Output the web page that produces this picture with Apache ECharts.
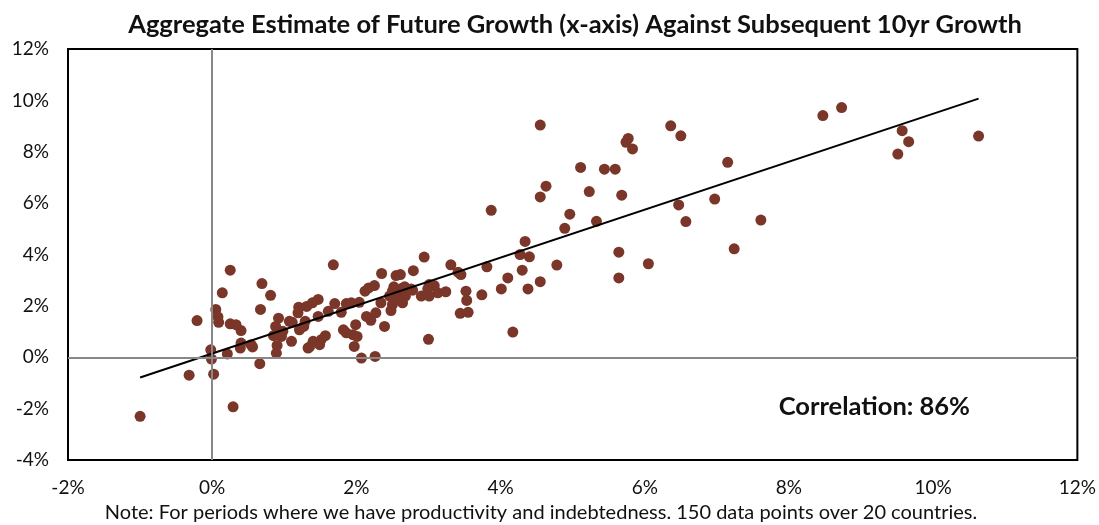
<!DOCTYPE html>
<html>
<head>
<meta charset="utf-8">
<script src="https://cdn.jsdelivr.net/npm/echarts@6/dist/echarts.min.js"></script>
<style>
  html, body { margin: 0; padding: 0; background: #fff; }
  #myChart { width: 1099px; height: 525px; }
</style>
</head>
<body>
<div id="myChart"></div>
<script>
// 数据（%）
var estGrowth = [
  -1.00, -0.32, -0.21, -0.02, -0.01, 0.02, 0.05, 0.08, 0.09, 0.14,
  0.25, 0.21, 0.29, 0.25, 0.33, 0.40, 0.40, 0.39, 0.54, 0.56,
  0.66, 0.69, 0.67, 0.81, 0.92, 0.88, 0.85, 0.90, 0.89, 0.98,
  0.96, 1.07, 1.11, 1.10, 1.20, 1.19, 1.21, 1.31, 1.33, 1.68,
  2.35, 2.55, 2.61, 2.25, 2.17, 2.12, 2.52, 2.50, 2.64, 1.47,
  1.39, 1.70, 1.86, 1.93, 2.04, 2.34, 2.57, 2.62, 2.48, 1.61,
  1.79, 1.47, 2.14, 2.20, 2.27, 1.29, 1.27, 2.39, 1.99, 1.82,
  1.86, 1.95, 2.01, 1.57, 1.51, 1.40, 1.35, 1.49, 1.97, 2.07,
  2.26, 2.94, 3.31, 2.79, 3.81, 3.41, 3.45, 2.67, 2.76, 2.62,
  2.68, 2.46, 2.64, 2.50, 2.78, 2.90, 3.01, 3.13, 3.24, 3.01,
  3.08, 2.99, 3.52, 3.53, 3.74, 4.01, 3.44, 3.55, 3.00, 4.10,
  4.17, 4.55, 6.36, 6.50, 5.77, 5.74, 5.83, 5.11, 5.44, 5.59,
  4.63, 4.55, 5.23, 5.68, 4.96, 6.47, 6.57, 4.89, 5.33, 4.34,
  4.27, 4.40, 5.64, 6.05, 4.78, 4.30, 5.64, 4.55, 4.38, 3.87,
  8.47, 8.73, 9.57, 9.66, 9.51, 10.63, 7.15, 6.97, 7.61, 7.24
];
var nextGrowth = [
  -2.30, -0.70, 1.43, 0.29, -0.07, -0.66, 1.86, 1.57, 1.36, 2.51,
  3.39, 0.13, -1.93, 1.30, 1.27, 1.04, 0.55, 0.36, 0.49, 0.40,
  -0.25, 2.87, 1.86, 2.41, 1.52, 1.20, 0.84, 0.46, 0.16, 1.01,
  0.81, 1.40, 1.36, 0.62, 1.95, 1.73, 1.07, 1.98, 0.36, 3.60,
  3.26, 3.18, 3.22, 2.79, 2.70, 2.57, 2.74, 2.57, 2.70, 2.25,
  2.12, 2.09, 2.09, 2.12, 2.14, 2.12, 2.25, 2.36, 1.82, 1.79,
  1.75, 1.59, 1.59, 1.44, 1.73, 1.40, 1.20, 1.20, 1.27, 1.07,
  0.95, 0.88, 0.81, 0.84, 0.68, 0.62, 0.40, 0.49, 0.42, -0.03,
  0.03, 3.90, 3.60, 3.37, 3.52, 3.31, 3.22, 2.74, 2.66, 2.51,
  2.38, 2.38, 2.12, 2.05, 2.61, 2.38, 2.38, 2.51, 2.55, 2.83,
  2.79, 2.66, 2.57, 2.21, 2.43, 2.66, 1.71, 1.75, 0.70, 3.09,
  0.98, 9.04, 9.01, 8.62, 8.52, 8.37, 8.11, 7.39, 7.32, 7.32,
  6.66, 6.24, 6.45, 6.31, 5.57, 5.93, 5.28, 5.02, 5.29, 4.51,
  4.00, 3.91, 4.09, 3.64, 3.59, 3.39, 3.09, 2.94, 2.66, 5.72,
  9.41, 9.72, 8.82, 8.39, 7.91, 8.61, 7.59, 6.16, 5.34, 4.22
];
var xTicks = [-2, 0, 2, 4, 6, 8, 10, 12];
var yTicks = [-4, -2, 0, 2, 4, 6, 8, 10, 12];
var titleText = 'Aggregate Estimate of Future Growth (x-axis) Against Subsequent 10yr Growth';
var noteText = 'Note: For periods where we have productivity and indebtedness. 150 data points over 20 countries.';
var corrText = 'Correlation: 86%';

var points = estGrowth.map(function (x, i) { return [x, nextGrowth[i]]; });

// 趋势线（最小二乘）
var n = points.length, sx = 0, sy = 0, sxx = 0, sxy = 0;
points.forEach(function (p) { sx += p[0]; sy += p[1]; sxx += p[0] * p[0]; sxy += p[0] * p[1]; });
var slope = (n * sxy - sx * sy) / (n * sxx - sx * sx);
var icpt = (sy - slope * sx) / n;
var xMin = Math.min.apply(null, estGrowth), xMax = Math.max.apply(null, estGrowth);
var trend = [[xMin, icpt + slope * xMin], [xMax, icpt + slope * xMax]];

var font = 'Lato, "Open Sans", sans-serif';
var myChart = echarts.init(document.getElementById('myChart'));
myChart.setOption({
  backgroundColor: '#fff',
  animation: false,
  textStyle: { fontFamily: font },
  grid: {
    left: 68, right: 20, top: 49, bottom: 65,
    show: true, borderColor: '#000', borderWidth: 2
  },
  xAxis: {
    type: 'value',
    min: xTicks[0], max: xTicks[xTicks.length - 1], interval: 2,
    axisLine: { show: false, onZero: false },
    axisTick: { show: false },
    splitLine: { show: false },
    axisLabel: { fontSize: 19, color: '#111', margin: 18, formatter: '{value}%' }
  },
  yAxis: {
    type: 'value',
    min: yTicks[0], max: yTicks[yTicks.length - 1], interval: 2,
    axisLine: { show: false, onZero: false },
    axisTick: { show: false },
    splitLine: { show: false },
    axisLabel: { fontSize: 19, color: '#111', margin: 19, formatter: '{value}%' }
  },
  graphic: [
    {
      // 标题
      type: 'text', x: 575, y: 25, z: 10,
      style: {
        text: titleText, fontSize: 25.5, fontWeight: 'bold', fill: '#111',
        fontFamily: font, align: 'center', verticalAlign: 'middle'
      }
    },
    {
      type: 'text', x: 970, y: 407, z: 10,
      style: {
        text: corrText, fontSize: 25.5, fontWeight: 'bold', fill: '#111',
        fontFamily: font, align: 'right', verticalAlign: 'middle'
      }
    },
    {
      type: 'text', x: 541, y: 513,
      style: {
        text: noteText, fontSize: 20, fill: '#111', fontFamily: font,
        align: 'center', verticalAlign: 'middle'
      }
    }
  ],
  series: [
    {
      type: 'scatter',
      data: points,
      symbolSize: 11,
      itemStyle: { color: '#7a3628', opacity: 1 },
      z: 3,
      markLine: {
        silent: true,
        symbol: 'none',
        label: { show: false },
        lineStyle: { color: '#888', width: 2, type: 'solid' },
        data: [{ xAxis: 0 }, { yAxis: 0 }]
      }
    },
    {
      type: 'line',
      data: trend,
      symbol: 'none',
      lineStyle: { color: '#000', width: 2 },
      z: 4
    }
  ]
});
</script>
</body>
</html>
